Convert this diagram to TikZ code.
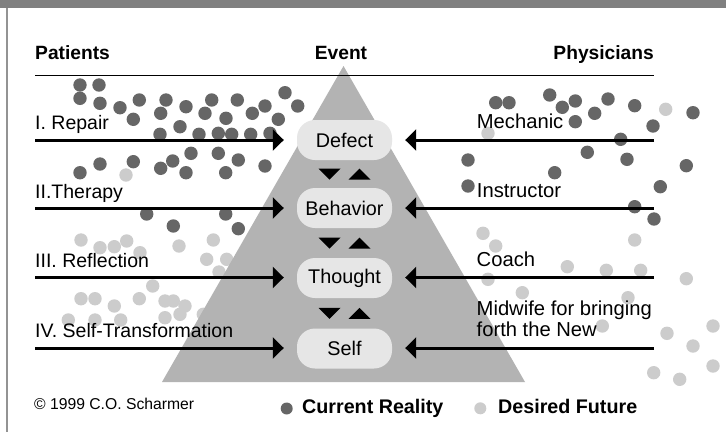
\documentclass[tikz,border=0pt]{standalone}
\usepackage{fontspec}
\setmainfont{Liberation Sans}
\usetikzlibrary{arrows.meta,calc}
\definecolor{darkdot}{HTML}{666666}
\definecolor{lightdot}{HTML}{CCCCCC}
\definecolor{pyr}{HTML}{B3B3B3}
\definecolor{pill}{HTML}{E6E6E6}
\definecolor{barc}{HTML}{808080}
\begin{document}
\begin{tikzpicture}[x=1pt,y=-1pt,
  pillbox/.style={fill=pill, rounded corners=18pt, minimum width=95pt, minimum height=40pt, inner sep=0pt, font=\fontsize{19.8}{22}\selectfont},
  arr/.style={line width=3pt, -{Triangle[length=11pt,width=21pt]}},
  lbl/.style={inner sep=0pt, anchor=base west, font=\fontsize{19.5}{22}\selectfont},
  rlbl/.style={inner sep=0pt, anchor=base west, font=\fontsize{20.2}{22}\selectfont},
  head/.style={inner sep=0pt, font=\fontsize{19.2}{22}\selectfont\bfseries},
  leg/.style={inner sep=0pt, anchor=base west, font=\fontsize{19.7}{22}\selectfont\bfseries},
  dd/.style={fill=darkdot},
  ld/.style={fill=lightdot},
  mini/.style={fill=black}
]
\useasboundingbox (0,0) rectangle (726,432);
\fill[white] (0,0) rectangle (726,432);
\fill[barc] (0,0) rectangle (726,7.5);
\draw[barc!85, line width=1.8pt] (7,7.5) -- (7,432);

% dots: current reality
\foreach \x/\y in {80/85,99/85,80/98.3,100/103.3,120/107.7,139.3/100,166/100,160.7/113.3,186/106.7,211.7/100,205/113.3,237.3/100,226/118.3,252.3/113.3,265/106,285/92.7,297.7/106,278.3/119.3,133.3/119.3,180/126.7,160/134.3,199/134.3,218.3/133.3,231.7/134.3,250.7/134.3,270/133.3,
80/172.7,100/164,133.3/161.7,160.7/168.3,172.7/161,191/153.3,186/172.7,218.3/153.3,238.3/160,225.7/172.7,265/166,
146.7/214,225.7/214,173.3/226,238.3/228.7,
495.7/102.7,509/102.7,549.7/95,562.3/107.3,575.3/101,594.7/113.3,608/99,634.7/105.7,693/112.7,575.3/121.7,653/126,620.7/139.3,587.3/152.3,627/159.3,686.3/165.7,468/160,554.7/172.7,468/186,660.3/186.7,634.7/206.7,654/219}
  \fill[dd] (\x,\y) circle[radius=6.7pt];
% dots: desired future
\foreach \x/\y in {126/175,488/133.3,665.7/109.3,
81/240,100/247.7,114.3/246.7,126.7/241,140/252.7,179/246,213.3/240,206.7/259.3,226.7/259.3,219/272,152.7/286,81/298.7,95/298.7,114.3/306,139.3/298.7,165/301,173.3/301,185/306,68.3/320,95/320,120.7/320,165/317.7,180/314.3,203.3/314.3,
483/233.3,495.7/246,634.7/240,567.3/266.7,606.3/270.3,640.7/270.3,686.3/278.7,488/279.3,522.3/292.7,628/297.7,602.3/326,667/333.3,713/326,693/346,713/366,653.7/372.7,679.7/379.3}
  \fill[ld] (\x,\y) circle[radius=6.7pt];

% pyramid
\fill[pyr] (162,382) -- (525,382) -- (343.5,66) -- cycle;
\draw[line width=0.9pt] (35,75) -- (654,75);

% headings
\node[head, anchor=base west] (patients) at (35,59.5) {Patients};
\node[head, anchor=base] (event) at (341,59.5) {Event};
\node[head, anchor=base east] (physicians) at (654,59.5) {Physicians};

% level boxes
\node[pillbox] (defect) at (344.5,140) {Defect};
\node[pillbox] (behavior) at (344.5,208) {Behavior};
\node[pillbox] (thought) at (344.5,278) {Thought};
\node[pillbox] (self) at (344.5,348.5) {Self};

% small triangles between boxes
\foreach \a/\b in {defect/behavior,behavior/thought,thought/self}{
  \coordinate (m) at ($(\a.south)!0.5!(\b.north)$);
  \fill[mini] ($(m)+(-26,-5.5)$) -- ($(m)+(-4,-5.5)$) -- ($(m)+(-15,5.5)$) -- cycle;
  \fill[mini] ($(m)+(4,5.5)$) -- ($(m)+(26,5.5)$) -- ($(m)+(15,-5.5)$) -- cycle;
}

% arrows
\coordinate (l1) at (35,140); \coordinate (l2) at (35,208);
\coordinate (l3) at (35,277.5); \coordinate (l4) at (35,348);
\coordinate (r1) at (654,140); \coordinate (r2) at (654,208);
\coordinate (r3) at (654,277.5); \coordinate (r4) at (654,348);
\draw[arr] (l1) -- ([xshift=-13pt]defect.west);
\draw[arr] (l2) -- ([xshift=-13pt]behavior.west);
\draw[arr] (l3) -- ([xshift=-13pt]thought.west|-l3);
\draw[arr] (l4) -- ([xshift=-13pt]self.west|-l4);
\draw[arr] (r1) -- ([xshift=13pt]defect.east);
\draw[arr] (r2) -- ([xshift=13pt]behavior.east);
\draw[arr] (r3) -- ([xshift=13pt]thought.east|-r3);
\draw[arr] (r4) -- ([xshift=13pt]self.east|-r4);

% left labels
\node[lbl] (repair) at (35,129.5) {I. Repair};
\node[lbl] (therapy) at (35,198) {II.Therapy};
\node[lbl] (reflection) at (35,267) {III. Reflection};
\node[lbl] (selftrans) at (35,337) {IV. Self-Transformation};

% right labels
\node[rlbl] (mechanic) at (476.7,128.5) {Mechanic};
\node[rlbl] (instructor) at (476.7,197.5) {Instructor};
\node[rlbl] (coach) at (476.5,266.5) {Coach};
\node[rlbl] (mid1) at (476.5,315) {Midwife for bringing};
\node[rlbl] (mid2) at (476.5,336) {forth the New};

% footer
\node[inner sep=0pt, anchor=base west, font=\fontsize{15.7}{18}\selectfont] (copy) at (34,409.5) {\textcopyright{} 1999 C.O. Scharmer};
\fill[darkdot] (286.7,408.5) circle[radius=6pt];
\node[leg] (current) at (302,413.5) {Current Reality};
\fill[lightdot] (480.3,408.3) circle[radius=6pt];
\node[leg] (desired) at (498,413.5) {Desired Future};
\end{tikzpicture}
\end{document}
